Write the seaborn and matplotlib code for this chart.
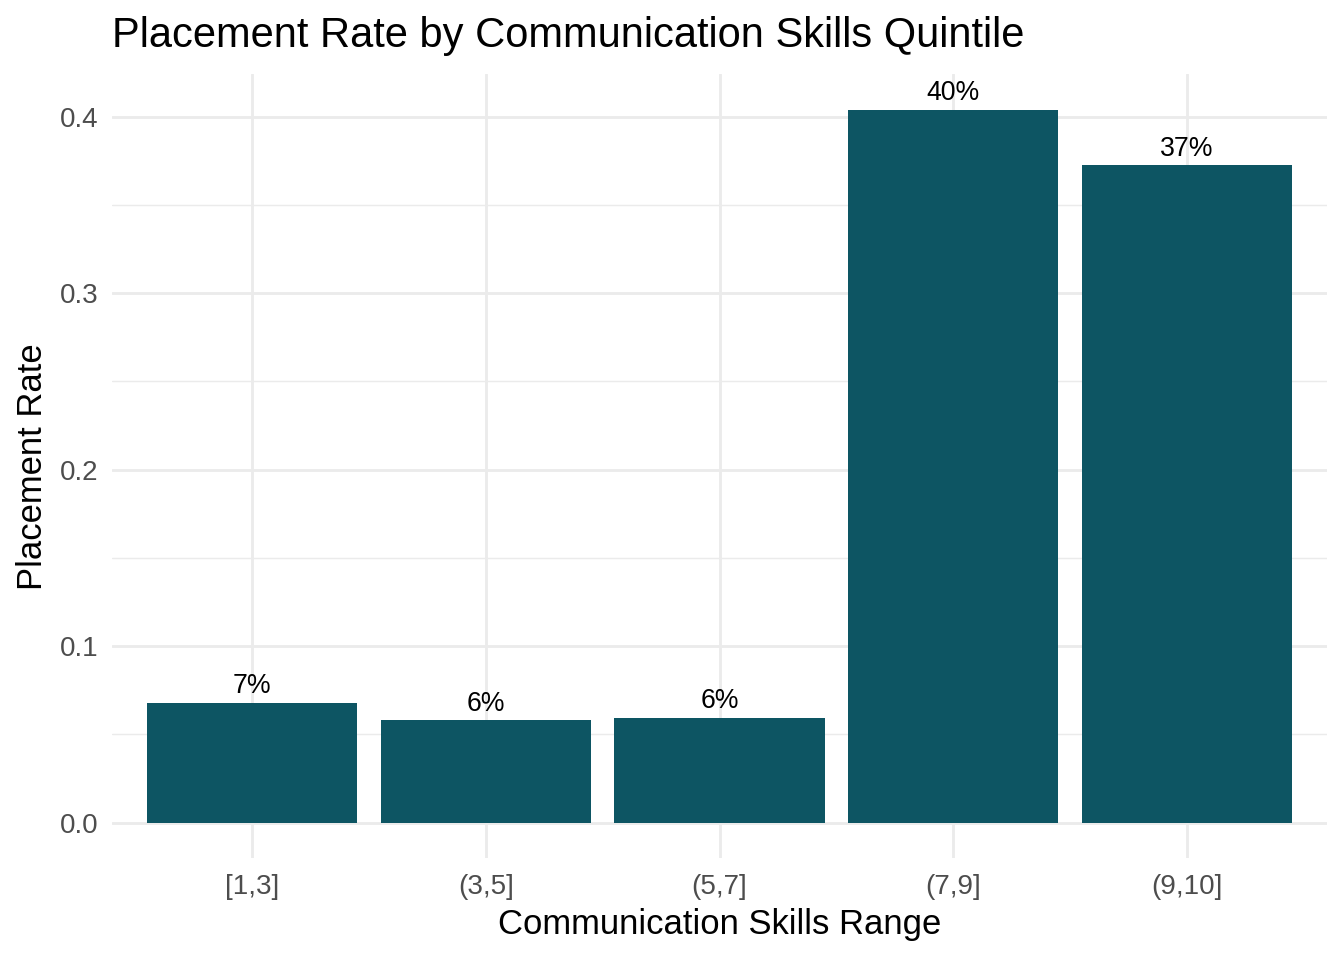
"""Placement rate by communication skills quintile, ggplot-minimal look."""

import matplotlib

matplotlib.use("Agg")
import matplotlib.pyplot as plt
import pandas as pd
import seaborn as sns
from matplotlib.ticker import FixedLocator, MultipleLocator


SKILL_RANGES = ["[1,3]", "(3,5]", "(5,7]", "(7,9]", "(9,10]"]
PLACEMENT_RATE = [0.068, 0.058, 0.0595, 0.404, 0.3725]
Y_TICKS = [0.0, 0.1, 0.2, 0.3, 0.4]
Y_TICK_LABELS = ["0.0", "0.1", "0.2", "0.3", "0.4"]

BAR_COLOR = "#0D5563"
GRID_COLOR = "#EBEBEB"
OUT_PATH = "out.png"


def main():
    data = pd.DataFrame({"range": SKILL_RANGES, "rate": PLACEMENT_RATE})
    labels = [f"{round(v * 100)}%" for v in PLACEMENT_RATE]

    sns.set_theme(style="white")
    plt.rcParams["font.family"] = ["Liberation Sans", "DejaVu Sans"]

    fig = plt.figure(figsize=(7, 5), dpi=192)
    ax = fig.add_axes([0.08315, 0.10594, 0.90439, 0.81688])

    sns.barplot(
        data=data,
        x="range",
        y="rate",
        color=BAR_COLOR,
        saturation=1,
        width=0.9,
        edgecolor="none",
        linewidth=0,
        ax=ax,
    )
    ax.bar_label(ax.containers[0], labels=labels, padding=1.3, fontsize=10, color="black")

    top = max(PLACEMENT_RATE)
    ax.set_xlim(-0.6, len(SKILL_RANGES) - 0.4)
    ax.set_ylim(-0.05 * top, 1.05 * top)

    ax.yaxis.set_major_locator(FixedLocator(Y_TICKS))
    ax.set_yticklabels(Y_TICK_LABELS)
    ax.yaxis.set_minor_locator(MultipleLocator(0.05))

    ax.set_axisbelow(True)
    ax.grid(which="major", axis="both", color=GRID_COLOR, linewidth=1.07)
    ax.grid(which="minor", axis="y", color=GRID_COLOR, linewidth=0.53)
    for side in ax.spines.values():
        side.set_visible(False)

    ax.tick_params(axis="both", which="both", length=0, labelsize=10.4, labelcolor="#4D4D4D")
    ax.tick_params(axis="x", pad=6)
    ax.tick_params(axis="y", pad=5)

    ax.set_xlabel("Communication Skills Range", fontsize=13, color="black", labelpad=3)
    ax.set_ylabel("Placement Rate", fontsize=13, color="black", labelpad=4)
    ax.set_title(
        "Placement Rate by Communication Skills Quintile",
        fontsize=15.6,
        loc="left",
        color="black",
        pad=10,
    )

    fig.savefig(OUT_PATH, dpi=192, facecolor="white")
    plt.close(fig)


if __name__ == "__main__":
    main()
